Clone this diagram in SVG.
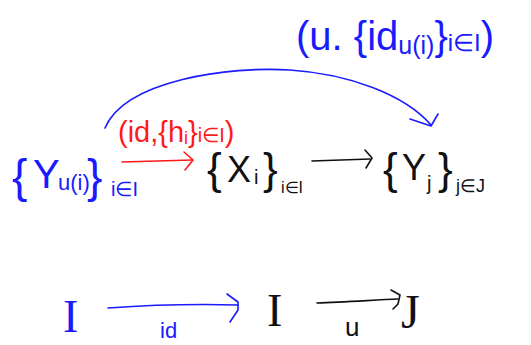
<svg xmlns="http://www.w3.org/2000/svg" width="531" height="345" viewBox="0 0 531 345">
<style>
text{font-family:"Liberation Sans",Arial,sans-serif;}
.b{fill:#1a1aff;}
.r{fill:#ff1a1a;}
.k{fill:#111;}
.s{font-family:"Liberation Serif","Times New Roman",serif;}
.lb{stroke:#1a1aff;fill:none;stroke-width:1.6;stroke-linecap:round;stroke-linejoin:round;}
.lr{stroke:#ff1a1a;fill:none;stroke-width:1.6;stroke-linecap:round;stroke-linejoin:round;}
.lk{stroke:#111;fill:none;stroke-width:1.6;stroke-linecap:round;stroke-linejoin:round;}
</style>
<rect width="531" height="345" fill="#fff"/>
<g id="connectors">
<g id="arc-u-id">
<path class="lb" d="M105,128 C125,80 230,66 290,70 C350,74 405,95 431,125"/>
<path class="lb" d="M410,119 L431,126 L438,114"/>
</g>
<g id="arrow-id-h">
<path class="lr" d="M122,162 L192,160"/>
<path class="lr" d="M184,152 L193,160 L185,170"/>
</g>
<g id="arrow-X-Y">
<path class="lk" d="M312,161 L370,159"/>
<path class="lk" d="M365,150 L372,158 L366,168"/>
</g>
<g id="arrow-bottom-id">
<path class="lb" d="M108,308 C150,305 200,304 238,305"/>
<path class="lb" d="M227,294 L238,302 L238,310 L230,322"/>
</g>
<g id="arrow-bottom-u">
<path class="lk" d="M317,303 C345,302 375,300 398,299"/>
<path class="lk" d="M391,290 L400,295 L398,304 L393,309"/>
</g>
</g>
<g id="label-top">
<text class="b" x="296" y="50" font-size="40">(u. {id<tspan font-size="25" dy="4">u(i)</tspan><tspan dy="-4">}</tspan><tspan font-size="24" dy="1">i∈I</tspan><tspan dy="-1">)</tspan></text>
</g>
<g id="label-red">
<text class="r" x="118" y="142" font-size="29">(id,{h<tspan font-size="18" dy="2">i</tspan><tspan dy="-2">}</tspan><tspan font-size="20">i∈I</tspan>)</text>
</g>
<g id="node-Yu">
<text class="b" x="12" y="192" font-size="46">{</text>
<text class="b" x="33" y="188" font-size="40">Y</text>
<text class="b" x="58" y="190" font-size="22">u(i)</text>
<text class="b" x="87" y="192" font-size="46">}</text>
<text class="b" x="111" y="196" font-size="20">i∈I</text>
</g>
<g id="node-X">
<text class="k" x="207" y="184" font-size="44">{</text>
<text class="k" x="227" y="182" font-size="36">X</text>
<text class="k" x="254" y="184" font-size="20">i</text>
<text class="k" x="263" y="184" font-size="44">}</text>
<text class="k" x="281" y="193" font-size="16">i∈I</text>
</g>
<g id="node-Yj">
<text class="k" x="383" y="184" font-size="44">{</text>
<text class="k" x="402" y="180" font-size="36">Y</text>
<text class="k" x="427" y="190" font-size="20">j</text>
<text class="k" x="438" y="184" font-size="44">}</text>
<text class="k" x="456" y="192" font-size="18">j∈J</text>
</g>
<g id="node-I-left">
<text class="b s" x="63" y="332" font-size="46">I</text>
</g>
<g id="label-id">
<text class="b" x="160" y="338" font-size="22">id</text>
</g>
<g id="node-I-mid">
<text class="k s" x="267" y="326" font-size="46">I</text>
</g>
<g id="label-u">
<text class="k" x="345" y="336" font-size="26">u</text>
</g>
<g id="node-J">
<text class="k s" x="401" y="328" font-size="48">J</text>
</g>
</svg>
